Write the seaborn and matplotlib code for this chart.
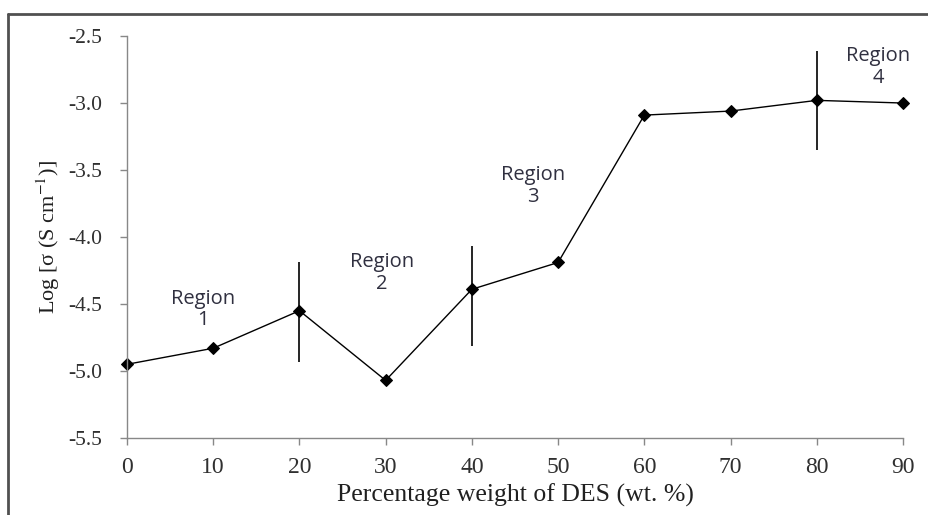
import numpy as np
import pandas as pd
import seaborn as sns
import matplotlib.pyplot as plt
from matplotlib.lines import Line2D

# data
des_wt = [0, 10, 20, 30, 40, 50, 60, 70, 80, 90]
log_sigma = [-4.95, -4.83, -4.55, -5.07, -4.39, -4.19, -3.09, -3.06, -2.98, -3.00]

# vertical bars at a few points
bar_x = [20, 40, 80]
bar_low = [-4.93, -4.81, -3.35]
bar_high = [-4.19, -4.07, -2.61]

region_labels = ['Region\n1', 'Region\n2', 'Region\n3', 'Region\n4']
region_x = [8.8, 29.6, 47.1, 87.1]
region_y = [-4.54, -4.27, -3.62, -2.73]

y_ticks = [-5.5, -5.0, -4.5, -4.0, -3.5, -3.0, -2.5]
x_ticks = list(range(0, 91, 10))

sns.set_style('ticks')
plt.rcParams['font.family'] = ['Liberation Serif', 'DejaVu Serif']
plt.rcParams['mathtext.fontset'] = 'stix'

df = pd.DataFrame({'wt': des_wt, 'logsig': log_sigma})

fig = plt.figure(figsize=(9.29, 5.15), dpi=100)
ax = fig.add_axes([0.1367, 0.1495, 0.8353, 0.7805])

sns.lineplot(data=df, x='wt', y='logsig', ax=ax, color='black', linewidth=1.0,
             marker='D', markersize=6, markeredgecolor='black', clip_on=False)
ax.vlines(bar_x, bar_low, bar_high, color='black', linewidth=1.2)

for lab, x, y in zip(region_labels, region_x, region_y):
    ax.text(x, y, lab, ha='center', va='center', fontsize=14.5, color='#303040',
            family=['Open Sans', 'DejaVu Sans'], linespacing=1.1)

ax.set_xlim(0, 90)
ax.set_ylim(-5.5, -2.5)
ax.set_xticks(x_ticks)
ax.set_yticks(y_ticks)
ax.set_yticklabels([f'{v:.1f}' for v in y_ticks])
ax.tick_params(axis='both', colors='#888888', labelcolor='#303030', length=5, width=1)
ax.tick_params(axis='y', pad=13, labelsize=15.5)
ax.tick_params(axis='x', pad=9, labelsize=17)
for side in ['top', 'right']:
    ax.spines[side].set_visible(False)
for side in ['left', 'bottom']:
    ax.spines[side].set_color('#888888')
    ax.spines[side].set_linewidth(1)

ax.set_xlabel('Percentage weight of DES (wt. %)', fontsize=18.5, color='#202020', labelpad=4)
ax.set_ylabel('Log [σ (S cm$^{-1}$)]', fontsize=16, color='#202020', labelpad=4)

# partial frame of the original screenshot
fig.add_artist(Line2D([8 / 929, 8 / 929], [0, 1 - 14 / 515], transform=fig.transFigure,
                      color='#505050', linewidth=2))
fig.add_artist(Line2D([8 / 929, 1], [1 - 14 / 515, 1 - 14 / 515], transform=fig.transFigure,
                      color='#505050', linewidth=2))

fig.savefig('out.png', dpi=100)
